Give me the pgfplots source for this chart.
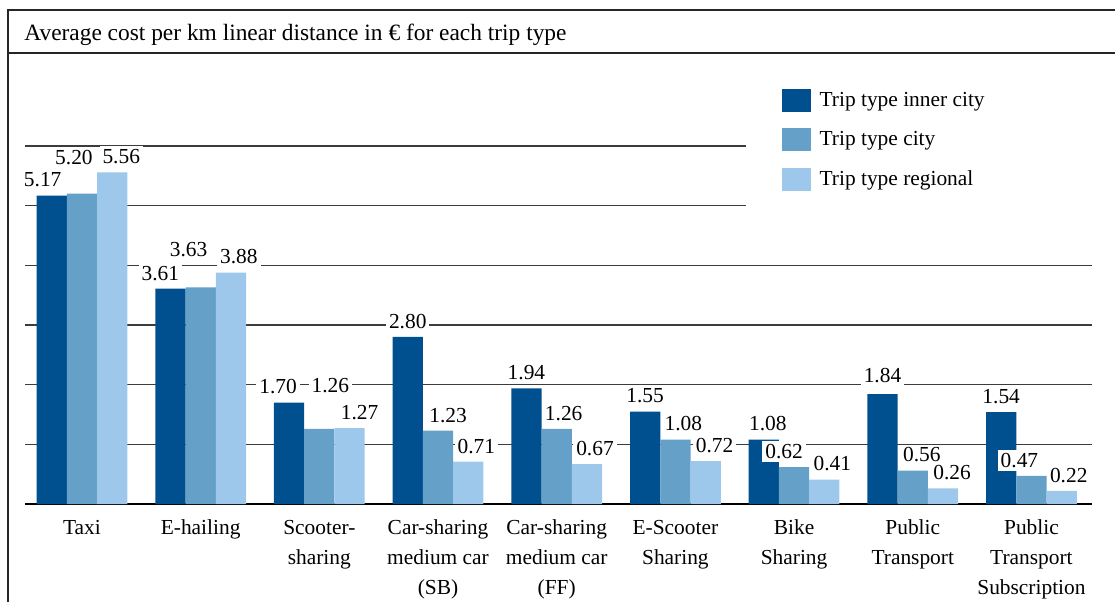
\documentclass[border=0pt]{standalone}
\usepackage{fontspec}
\setmainfont{Liberation Serif}
\usepackage{pgfplots}
\usepackage{pgfplotstable}
\pgfplotsset{compat=1.18}

\definecolor{tripdark}{RGB}{0,80,143}
\definecolor{tripmid}{RGB}{100,160,200}
\definecolor{triplight}{RGB}{157,200,235}
\definecolor{gridgray}{RGB}{60,60,60}

\newcommand{\chartfont}{\fontsize{10.7}{15}\selectfont}

% x, value, label x shift (pt), label y shift (pt)
\pgfplotstableread{
x y dx dy
0 5.17 -4.5 2.45
1 3.61 -5 2.45
2 1.70 -5.5 2.45
3 2.80 0 2.45
4 1.94 0 2.45
5 1.55 0 2.45
6 1.08 2 2.45
7 1.84 0 4
8 1.54 0 2.45
}\innercity
\pgfplotstableread{
x y dx dy
0 5.20 -4 12.95
1 3.63 -6 13.45
2 1.26 5.5 16.45
3 1.23 5 2.45
4 1.26 3.5 2.45
5 1.08 4 2.45
6 0.62 -5 2.45
7 0.56 4.5 2.45
8 0.47 -6 2.45
}\city
\pgfplotstableread{
x y dx dy
0 5.56 4.5 2.45
1 3.88 4 2.45
2 1.27 5 2.45
3 0.71 4 2.45
4 0.67 4 2.45
5 0.72 4.5 2.45
6 0.41 4 2.45
7 0.26 4.5 2.45
8 0.22 3.5 2.45
}\regional

\begin{document}
\begin{tikzpicture}
  \begin{axis}[
      set layers,
      scale only axis,
      width=533.5pt, height=179pt,
      ybar=0pt, bar width=0.255,
      xmin=-0.48, xmax=8.51,
      ymin=0, ymax=6,
      clip=false,
      axis x line*=bottom,
      axis y line*=left,
      y axis line style={draw=none},
      x axis line style={line width=1pt, black},
      ytick={1,2,3,4,5,6},
      yticklabels={},
      ymajorgrids,
      major grid style={draw=gridgray, line width=0.8pt},
      major tick length=0pt,
      xtick={0,...,8},
      xticklabels={Taxi, E-hailing, Scooter-\\sharing,
        Car-sharing\\medium car\\(SB), Car-sharing\\medium car\\(FF),
        E-Scooter\\Sharing, Bike\\Sharing, Public\\Transport,
        Public\\Transport\\Subscription},
      xticklabel style={align=center, font=\chartfont, yshift=-4.5pt},
      visualization depends on={\thisrow{dx} \as \dx},
      visualization depends on={\thisrow{dy} \as \dy},
      nodes near coords={\pgfmathprintnumber[fixed, fixed zerofill, precision=2, assume math mode=true]{\pgfplotspointmeta}},
      every node near coord/.append style={font=\chartfont, fill=white,
        inner sep=1.5pt, anchor=south, xshift=\dx pt, yshift=\dy pt},
      legend cell align=left,
      legend style={at={(0.675,1.2407)}, anchor=north west, draw=none,
        fill=white, inner xsep=18pt, inner ysep=14pt, row sep=7pt,
        font=\chartfont},
      legend image code/.code={\fill[#1, draw=none] (0pt,-5.75pt) rectangle (14.5pt,5.75pt);},
    ]
    \addplot[fill=tripdark, draw=none] table[x=x, y=y] {\innercity};
    \addlegendentry{\makebox[120pt][l]{\hspace{2.5pt}Trip type inner city}}
    \addplot[fill=tripmid, draw=none] table[x=x, y=y] {\city};
    \addlegendentry{\makebox[120pt][l]{\hspace{2.5pt}Trip type city}}
    \addplot[fill=triplight, draw=none] table[x=x, y=y] {\regional};
    \addlegendentry{\makebox[120pt][l]{\hspace{2.5pt}Trip type regional}}
  \end{axis}
  % frame and title row
  \draw[line width=1pt, black!85] (-8.5pt,-60pt) -- (-8.5pt,247pt) -- (560pt,247pt);
  \draw[line width=1pt, black!85] (-8.5pt,225.5pt) -- (560pt,225.5pt);
  \node[anchor=base west, inner sep=0pt, font=\fontsize{11.7}{14}\selectfont] at (-0.5pt,232pt)
    {Average cost per km linear distance in € for each trip type};
  \pgfresetboundingbox
  \path (-12.5pt,-48.5pt) rectangle (545pt,252pt);
\end{tikzpicture}
\end{document}
